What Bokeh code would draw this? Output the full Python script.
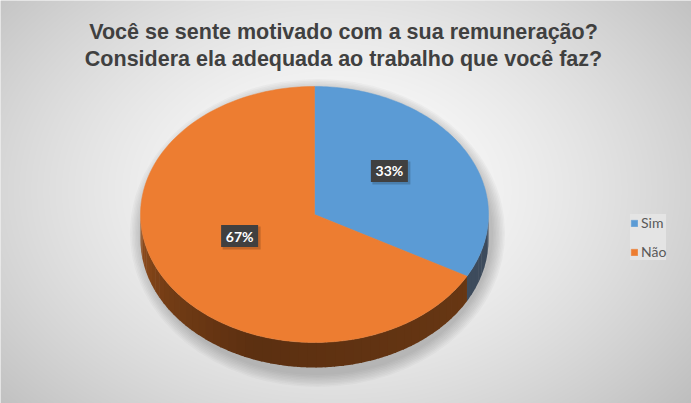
import numpy as np
from bokeh.plotting import figure
from bokeh.models import Range1d, Legend, LegendItem
from bokeh.core.properties import value
from bokeh.embed import file_html
from bokeh.resources import INLINE

# ---- data ----
title_lines = ["Você se sente motivado com a sua remuneração?",
               "Considera ela adequada ao trabalho que você faz?"]
categories = ["Sim", "Não"]
values = [33, 67]
pct_labels = ["33%", "67%"]
colors = ["#5B9BD5", "#ED7D31"]

# ---- layout constants (screen px of the 691x403 window) ----
W, H = 691, 403
cx, cy, rx, ry, depth = 314, 214, 174, 128, 25


def to_data_y(sy):
    return H - np.asarray(sy, dtype=float)


def rim(theta_deg, dz=0.0):
    t = np.radians(theta_deg)
    x = cx + rx * np.sin(t)
    y = cy - ry * np.cos(t) + dz
    return x, to_data_y(y)


p = figure(width=W, height=H, output_backend="svg", toolbar_location=None,
           x_range=Range1d(0, W), y_range=Range1d(0, H), min_border=0)
p.axis.visible = False
p.grid.visible = False
p.outline_line_color = None
p.background_fill_color = "#e0e0e0"
p.border_fill_color = "#e0e0e0"

# ---- radial gradient background ----
xs = np.arange(0, W) + 0.5
ys = np.arange(0, H) + 0.5
X, Y = np.meshgrid(xs, ys)
d = np.sqrt(((X - 335) / 420) ** 2 + ((Y - 190) / 300) ** 2)
g = np.clip(254 - 55 * d ** 1.5, 0, 255).astype(np.uint8)
img = np.empty(X.shape, dtype=np.uint32)
view = img.view(dtype=np.uint8).reshape(X.shape + (4,))
view[..., 0] = g
view[..., 1] = g
view[..., 2] = g
view[..., 3] = 255
p.image_rgba(image=[img[::-1]], x=0, y=0, dw=W, dh=H)

# ---- soft shadow ----
for k in range(1, 10):
    p.ellipse(x=cx + 3, y=float(to_data_y(cy + depth / 2 + 6)),
              width=2 * rx + 3 * k, height=2 * ry + depth + 3 * k,
              fill_color="#606060", fill_alpha=0.045, line_color=None)

# ---- slice angles ----
total = float(sum(values))
angles = []
start = 0.0
for v in values:
    end = start + 360.0 * v / total
    angles.append((start, end))
    start = end


def orange_side_color(theta):
    # lighter on the left, darker toward the front/bottom
    pts = [(110, (105, 56, 20)), (200, (92, 48, 17)), (240, (118, 62, 22)), (270, (150, 80, 30))]
    for (a0, c0), (a1, c1) in zip(pts[:-1], pts[1:]):
        if a0 <= theta <= a1:
            f = (theta - a0) / (a1 - a0)
            c = [int(c0[i] + f * (c1[i] - c0[i])) for i in range(3)]
            return "#%02x%02x%02x" % tuple(c)
    return "#%02x%02x%02x" % pts[-1][1]


side_colors = [lambda t: "#3d4b5c", orange_side_color]

# ---- side walls (visible front half: 90..270 deg) ----
for (a0, a1), col_fn in zip(angles, side_colors):
    lo, hi = max(a0, 90.0), min(a1, 270.0)
    if hi <= lo:
        continue
    nstrips = max(1, int((hi - lo) / 3))
    edges = np.linspace(lo, hi, nstrips + 1)
    for s0, s1 in zip(edges[:-1], edges[1:]):
        th = np.linspace(s0, s1 + 0.4 if s1 < hi else s1, 6)
        tx, ty = rim(th)
        bx, by = rim(th[::-1], depth)
        p.patch(x=np.concatenate([tx, bx]), y=np.concatenate([ty, by]),
                fill_color=col_fn((s0 + s1) / 2), line_color=None)

# ---- top faces ----
top_renderers = []
for (a0, a1), c in zip(angles, colors):
    th = np.linspace(a0, a1, 120)
    tx, ty = rim(th)
    r = p.patch(x=np.concatenate([[cx], tx]), y=np.concatenate([[to_data_y(cy)], ty]),
                fill_color=c, line_color=c, line_width=0.5)
    top_renderers.append(r)

# ---- data labels ----
for (a0, a1), lab in zip(angles, pct_labels):
    m = np.radians((a0 + a1) / 2)
    lx = cx + 0.5 * rx * np.sin(m)
    ly = cy - 0.5 * ry * np.cos(m) - 11
    p.rect(x=lx + 2, y=float(to_data_y(ly + 2)), width=38, height=23,
           fill_color="#000000", fill_alpha=0.18, line_color=None)
    p.rect(x=lx, y=float(to_data_y(ly)), width=37, height=22,
           fill_color="#404040", line_color=None)
    p.text(x=[lx], y=[float(to_data_y(ly))], text=[lab], text_color="white",
           text_font=value("Lato"), text_font_style="bold", text_font_size="14px",
           text_align="center", text_baseline="middle")

# ---- title ----
for i, line in enumerate(title_lines):
    p.text(x=[343], y=[float(to_data_y(31 + 27 * i))], text=[line],
           text_color="#404040", text_font=value("Liberation Sans"),
           text_font_style="bold", text_font_size="21.5px",
           text_align="center", text_baseline="alphabetic")

# ---- legend ----
legend = Legend(items=[LegendItem(label=c, renderers=[r]) for c, r in zip(categories, top_renderers)],
                location=(630, 143), orientation="vertical",
                label_text_font="Lato", label_text_font_size="14px",
                label_text_color="#595959",
                glyph_width=8, glyph_height=8, label_height=11, label_standoff=3,
                spacing=12, padding=8, margin=0,
                background_fill_color="#e4e4e4", background_fill_alpha=1.0,
                border_line_color=None)
p.add_layout(legend)

open("out.html", "w").write(file_html(p, INLINE))
